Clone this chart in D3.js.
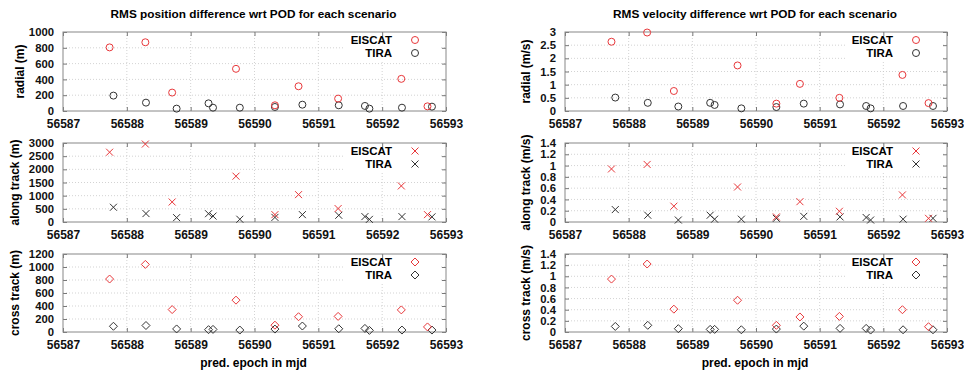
<!DOCTYPE html>
<html>
<head>
<meta charset="utf-8">
<script src="https://cdn.jsdelivr.net/npm/d3@7"></script>
<style>
  body { margin: 0; background: #fff; }
  text { font-family: "Liberation Sans", Arial, sans-serif; font-weight: bold; }
</style>
</head>
<body>
<div id="chart"></div>
<script>
// epochs (mjd) of the scenarios
const epochsEiscat = [56587.73, 56588.29, 56588.71, 56589.71, 56590.32, 56590.69, 56591.31, 56592.30, 56592.71];
const epochsTira = [56587.79, 56588.30, 56588.78, 56589.28, 56589.35, 56589.77, 56590.32, 56590.75, 56591.32, 56591.73, 56591.80, 56592.31, 56592.78];

// position differences (m)
const posRadialEiscat = [805, 870, 233, 534, 72, 313, 157, 407, 59];
const posRadialTira = [195, 106, 30, 97, 42, 42, 51, 80, 72, 64, 30, 42, 55];
const posAlongEiscat = [2650, 2960, 760, 1740, 280, 1040, 510, 1370, 280];
const posAlongTira = [560, 320, 165, 315, 225, 105, 175, 280, 255, 205, 100, 205, 195];
const posCrossEiscat = [815, 1040, 345, 490, 105, 235, 240, 340, 78];
const posCrossTira = [88, 100, 47, 36, 40, 30, 45, 92, 50, 55, 25, 30, 30];

// velocity differences (m/s)
const velRadialEiscat = [2.63, 2.98, 0.76, 1.73, 0.28, 1.03, 0.50, 1.37, 0.30];
const velRadialTira = [0.51, 0.31, 0.17, 0.31, 0.23, 0.10, 0.15, 0.28, 0.25, 0.19, 0.10, 0.19, 0.19];
const velAlongEiscat = [0.94, 1.02, 0.28, 0.62, 0.09, 0.36, 0.19, 0.48, 0.065];
const velAlongTira = [0.22, 0.12, 0.035, 0.12, 0.05, 0.05, 0.065, 0.10, 0.09, 0.08, 0.035, 0.05, 0.065];
const velCrossEiscat = [0.95, 1.22, 0.41, 0.57, 0.12, 0.27, 0.28, 0.40, 0.095];
const velCrossTira = [0.10, 0.12, 0.06, 0.047, 0.047, 0.04, 0.053, 0.105, 0.065, 0.065, 0.035, 0.04, 0.04];

// ticks
const xTicks = [56587, 56588, 56589, 56590, 56591, 56592, 56593];
const posRadialTicks = [0, 200, 400, 600, 800, 1000];
const posAlongTicks = [0, 500, 1000, 1500, 2000, 2500, 3000];
const posCrossTicks = [0, 200, 400, 600, 800, 1000, 1200];
const velRadialTicks = [0, 0.5, 1, 1.5, 2, 2.5, 3];
const velAlongTicks = [0, 0.2, 0.4, 0.6, 0.8, 1, 1.2, 1.4];
const velCrossTicks = [0, 0.2, 0.4, 0.6, 0.8, 1, 1.2, 1.4];

const seriesNames = ['EISCAT', 'TIRA'];
const titles = ['RMS position difference wrt POD for each scenario', 'RMS velocity difference wrt POD for each scenario'];
const xLabel = 'pred. epoch in mjd';

var width = 964, height = 373;
var red = '#e8373a', dark = '#333';

var svg = d3.select('#chart').append('svg')
    .attr('width', width)
    .attr('height', height);

// panel layout
var cols = [{x0: 63, x1: 446, title: titles[0]}, {x0: 565, x1: 947, title: titles[1]}];
var rows = [{y0: 32, y1: 111}, {y0: 143, y1: 222}, {y0: 254, y1: 332}];

var panels = [
    {col: 0, row: 0, label: 'radial (m)', ticks: posRadialTicks, e: posRadialEiscat, t: posRadialTira, m: 'circle', lx: 20},
    {col: 0, row: 1, label: 'along track (m)', ticks: posAlongTicks, e: posAlongEiscat, t: posAlongTira, m: 'cross', lx: 15},
    {col: 0, row: 2, label: 'cross track (m)', ticks: posCrossTicks, e: posCrossEiscat, t: posCrossTira, m: 'diamond', lx: 15},
    {col: 1, row: 0, label: 'radial (m/s)', ticks: velRadialTicks, e: velRadialEiscat, t: velRadialTira, m: 'circle', lx: 526},
    {col: 1, row: 1, label: 'along track (m/s)', ticks: velAlongTicks, e: velAlongEiscat, t: velAlongTira, m: 'cross', lx: 526},
    {col: 1, row: 2, label: 'cross track (m/s)', ticks: velCrossTicks, e: velCrossEiscat, t: velCrossTira, m: 'diamond', lx: 526}
];

function marker(sel, type, color) {
    if (type === 'circle') {
        sel.append('circle').attr('r', 3.5)
            .attr('fill', 'none').attr('stroke', color).attr('stroke-width', 1);
    } else if (type === 'cross') {
        sel.append('path').attr('d', 'M-3.5,-3.5L3.5,3.5M-3.5,3.5L3.5,-3.5')
            .attr('stroke', color).attr('stroke-width', 1).attr('fill', 'none');
    } else {
        sel.append('path').attr('d', 'M0,-4L4,0L0,4L-4,0Z')
            .attr('stroke', color).attr('stroke-width', 1).attr('fill', 'none');
    }
}

// titles and x labels
cols.forEach(function (c) {
    svg.append('text')
        .attr('x', (c.x0 + c.x1) / 2 - 1).attr('y', 18)
        .attr('text-anchor', 'middle').attr('font-size', 11.8)
        .text(c.title);
    svg.append('text')
        .attr('x', (c.x0 + c.x1) / 2 - 1).attr('y', 367)
        .attr('text-anchor', 'middle').attr('font-size', 12)
        .text(xLabel);
});

panels.forEach(function (p) {
    var c = cols[p.col], r = rows[p.row];
    var x = d3.scaleLinear().domain([56587, 56593]).range([c.x0, c.x1]);
    var y = d3.scaleLinear().domain([0, p.ticks[p.ticks.length - 1]]).range([r.y1, r.y0]);
    var g = svg.append('g');

    // grid
    g.selectAll('.gx').data(xTicks.slice(1, -1)).enter().append('line')
        .attr('x1', d => x(d)).attr('x2', d => x(d))
        .attr('y1', r.y0).attr('y2', r.y1)
        .attr('stroke', '#c8c8c8').attr('stroke-width', 0.8).attr('stroke-dasharray', '1,2');
    g.selectAll('.gy').data(p.ticks.slice(1, -1)).enter().append('line')
        .attr('x1', c.x0).attr('x2', c.x1)
        .attr('y1', d => y(d)).attr('y2', d => y(d))
        .attr('stroke', '#c8c8c8').attr('stroke-width', 0.8).attr('stroke-dasharray', '1,2');

    // legend background covers grid
    g.append('rect')
        .attr('x', c.x1 - 102).attr('y', r.y0 + 2)
        .attr('width', 96).attr('height', 27)
        .attr('fill', '#fff');

    // axes
    var xAxis = d3.axisBottom(x).tickValues(xTicks).tickFormat(d3.format('d')).tickSize(-4).tickPadding(8);
    var yAxis = d3.axisLeft(y).tickValues(p.ticks).tickFormat(d => String(d)).tickSize(-4).tickPadding(9);
    var gx = g.append('g').attr('transform', `translate(0,${r.y1})`).call(xAxis);
    var gy = g.append('g').attr('transform', `translate(${c.x0},0)`).call(yAxis);
    [gx, gy].forEach(function (a) {
        a.select('.domain').remove();
        a.selectAll('line').attr('stroke', '#777');
        a.selectAll('text').attr('fill', '#111')
            .attr('font-family', '"Liberation Sans", Arial, sans-serif');
    });
    gx.selectAll('text').attr('dy', '0.71em').attr('font-size', 12);
    gy.selectAll('text').attr('font-size', 11.3);
    // mirrored ticks
    g.append('g').attr('transform', `translate(0,${r.y0})`)
        .call(d3.axisTop(x).tickValues(xTicks).tickSize(-4).tickFormat(''))
        .call(a => { a.select('.domain').remove(); a.selectAll('line').attr('stroke', '#777'); });
    g.append('g').attr('transform', `translate(${c.x1},0)`)
        .call(d3.axisRight(y).tickValues(p.ticks).tickSize(-4).tickFormat(''))
        .call(a => { a.select('.domain').remove(); a.selectAll('line').attr('stroke', '#777'); });

    // frame
    g.append('rect')
        .attr('x', c.x0).attr('y', r.y0)
        .attr('width', c.x1 - c.x0).attr('height', r.y1 - r.y0)
        .attr('fill', 'none').attr('stroke', '#888').attr('stroke-width', 1);

    // y label
    svg.append('text')
        .attr('transform', `translate(${p.lx},${(r.y0 + r.y1) / 2}) rotate(-90)`)
        .attr('text-anchor', 'middle').attr('dy', '0.35em').attr('font-size', 12)
        .text(p.label);

    // points
    var tira = epochsTira.map((d, i) => ({x: d, y: p.t[i]}));
    var eiscat = epochsEiscat.map((d, i) => ({x: d, y: p.e[i]}));
    g.selectAll('.pt').data(tira).enter().append('g')
        .attr('transform', d => `translate(${x(d.x)},${y(d.y)})`)
        .each(function () { marker(d3.select(this), p.m, dark); });
    g.selectAll('.pe').data(eiscat).enter().append('g')
        .attr('transform', d => `translate(${x(d.x)},${y(d.y)})`)
        .each(function () { marker(d3.select(this), p.m, red); });

    // legend
    seriesNames.forEach(function (name, i) {
        var ly = r.y0 + 8 + i * 13;
        svg.append('text')
            .attr('x', c.x1 - 54).attr('y', ly).attr('dy', '0.35em')
            .attr('text-anchor', 'end').attr('font-size', 11.5)
            .text(name);
        marker(svg.append('g').attr('transform', `translate(${c.x1 - 31},${ly})`), p.m, i === 0 ? red : dark);
    });
});
</script>
</body>
</html>
